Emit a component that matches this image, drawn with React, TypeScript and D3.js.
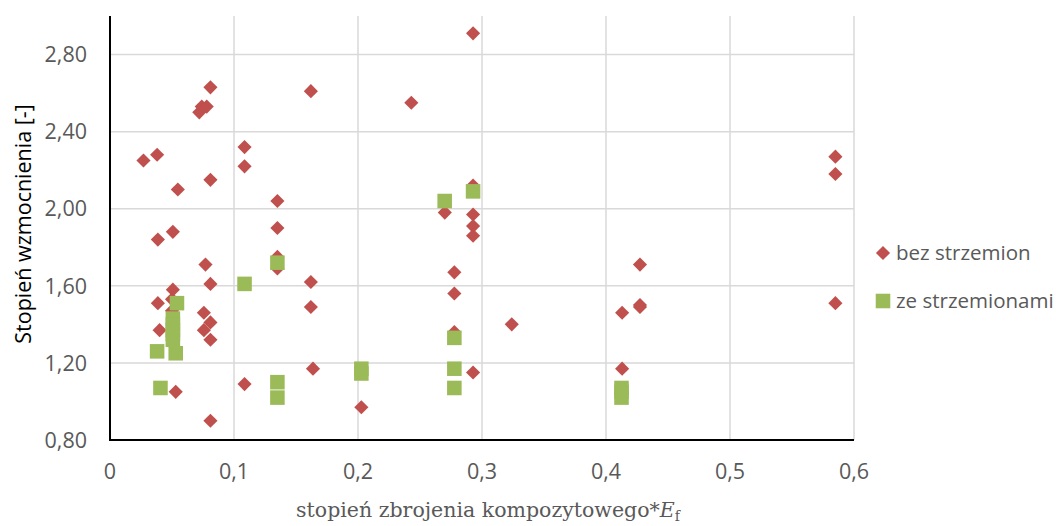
import React from 'react';
import * as d3 from 'd3';

// Series: "bez strzemion" (no stirrups) — [x, y]
const bezX = [
  0.027, 0.038, 0.0386, 0.0386, 0.040, 0.0507, 0.0507, 0.050, 0.050, 0.053,
  0.0547, 0.072, 0.074, 0.078, 0.081, 0.081, 0.077, 0.081, 0.0757, 0.081,
  0.0757, 0.081, 0.081, 0.1085, 0.1085, 0.1085, 0.135, 0.135, 0.135, 0.135,
  0.162, 0.162, 0.162, 0.1637, 0.2027, 0.243, 0.27, 0.2777, 0.2777, 0.2777,
  0.2928, 0.2928, 0.2928, 0.2928, 0.2928, 0.2928, 0.324, 0.413, 0.413, 0.4274,
  0.4274, 0.4274, 0.585, 0.585, 0.585,
];
const bezY = [
  2.25, 2.28, 1.84, 1.51, 1.37, 1.88, 1.58, 1.53, 1.47, 1.05,
  2.10, 2.50, 2.53, 2.53, 2.63, 2.15, 1.71, 1.61, 1.46, 1.41,
  1.37, 1.32, 0.90, 2.32, 2.22, 1.09, 2.04, 1.90, 1.75, 1.69,
  2.61, 1.62, 1.49, 1.17, 0.97, 2.55, 1.98, 1.67, 1.56, 1.36,
  2.91, 2.12, 1.97, 1.91, 1.86, 1.15, 1.40, 1.46, 1.17, 1.71,
  1.50, 1.49, 2.27, 2.18, 1.51,
];

// Series: "ze strzemionami" (with stirrups)
const zeX = [
  0.038, 0.0407, 0.0507, 0.0507, 0.0507, 0.0507, 0.0507, 0.053, 0.054, 0.1085,
  0.135, 0.135, 0.135, 0.2027, 0.2027, 0.2699, 0.2928, 0.2777, 0.2777, 0.2777,
  0.4125, 0.4125, 0.4125,
];
const zeY = [
  1.26, 1.07, 1.43, 1.40, 1.37, 1.35, 1.32, 1.25, 1.51, 1.61,
  1.72, 1.10, 1.02, 1.17, 1.145, 2.04, 2.09, 1.33, 1.17, 1.07,
  1.07, 1.05, 1.02,
];

const xTicks = [0, 0.1, 0.2, 0.3, 0.4, 0.5, 0.6];
const yTicks = [0.8, 1.2, 1.6, 2.0, 2.4, 2.8];
const legendLabels = ['bez strzemion', 'ze strzemionami'];

const RED = '#C0504D';
const GREEN = '#9BBB59';
const GRID = '#D9D9D9';
const TXT = '#595959';
const FONT = '"Open Sans", sans-serif';

export default function App() {
  const W = 1056;
  const H = 526;
  const m = { left: 110, top: 16, right: 854, bottom: 440 };

  const x = d3.scaleLinear().domain([0, 0.6]).range([m.left, m.right]);
  const y = d3.scaleLinear().domain([0.8, 3.0]).range([m.bottom, m.top]);

  const diamond = d3.symbol().type(d3.symbolSquare).size(100)() as string;
  const square = d3.symbol().type(d3.symbolSquare).size(212)() as string;

  const fmtX = (v: number) => (v === 0 ? '0' : v.toFixed(1).replace('.', ','));
  const fmtY = (v: number) => v.toFixed(2).replace('.', ',');

  return (
    <svg width={W} height={H} style={{ position: 'absolute', left: 0, top: 0, background: '#fff' }}>
      {/* grid */}
      {xTicks.slice(1).map((t) => (
        <line key={'gx' + t} x1={x(t)} x2={x(t)} y1={m.top} y2={m.bottom} stroke={GRID} strokeWidth={1.5} />
      ))}
      {yTicks.slice(1).map((t) => (
        <line key={'gy' + t} x1={m.left} x2={m.right} y1={y(t)} y2={y(t)} stroke={GRID} strokeWidth={1.5} />
      ))}

      {/* axes */}
      <line x1={m.left} x2={m.left} y1={m.top} y2={m.bottom + 1} stroke="#000" strokeWidth={2} />
      <line x1={m.left - 1} x2={m.right} y1={m.bottom} y2={m.bottom} stroke="#000" strokeWidth={2} />

      {/* tick labels */}
      {yTicks.map((t) => (
        <text key={'ty' + t} x={87} y={y(t)} dy="0.36em" textAnchor="end" fill={TXT} fontFamily={FONT} fontSize={21.5}>
          {fmtY(t)}
        </text>
      ))}
      {xTicks.map((t) => (
        <text key={'tx' + t} x={x(t)} y={479} textAnchor="middle" fill={TXT} fontFamily={FONT} fontSize={21.5}>
          {fmtX(t)}
        </text>
      ))}

      {/* points */}
      {bezX.map((v, i) => (
        <path key={'b' + i} d={diamond} fill={RED}
          transform={`translate(${x(v)},${y(bezY[i])}) rotate(45)`} />
      ))}
      {zeX.map((v, i) => (
        <path key={'z' + i} d={square} fill={GREEN}
          transform={`translate(${x(v)},${y(zeY[i])})`} />
      ))}

      {/* axis titles */}
      <text transform="translate(31,224) rotate(-90)" textAnchor="middle" fill="#000" fontFamily={FONT} fontSize={21.5}>
        Stopień wzmocnienia [-]
      </text>
      <text x={488} y={517} textAnchor="middle" fill={TXT} fontFamily='"DejaVu Serif", serif' fontSize={20.5}>
        stopień zbrojenia kompozytowego*<tspan fontStyle="italic">E</tspan>
        <tspan fontSize={14} dy={4}>f</tspan>
      </text>

      {/* legend */}
      <path d={diamond} fill={RED} transform="translate(883,253) rotate(45)" />
      <text x={896} y={253} dy="0.36em" fill={TXT} fontFamily={FONT} fontSize={20.5}>{legendLabels[0]}</text>
      <path d={square} fill={GREEN} transform="translate(883,301)" />
      <text x={896} y={301} dy="0.36em" fill={TXT} fontFamily={FONT} fontSize={20.5}>{legendLabels[1]}</text>
    </svg>
  );
}
